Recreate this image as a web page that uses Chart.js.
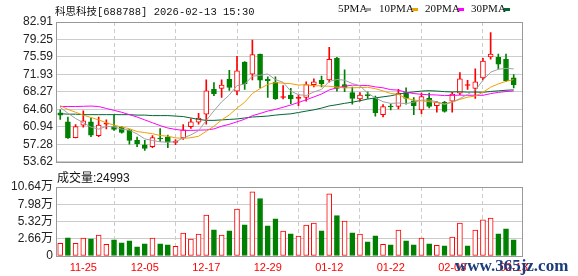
<!DOCTYPE html>
<html>
<head>
<meta charset="utf-8">
<script src="https://cdn.jsdelivr.net/npm/chart.js@4.4.1/dist/chart.umd.min.js"></script>
<style>
  body { margin: 0; width: 578px; height: 276px; background: #fff; position: relative; overflow: hidden;
         font-family: "Liberation Sans", "Noto Sans CJK SC", sans-serif; }
  #priceBox { position: absolute; left: 0; top: 0; width: 578px; height: 172px; }
  #volBox { position: absolute; left: 0; top: 176px; width: 578px; height: 100px; }
  .txt { position: absolute; white-space: nowrap; color: #111; line-height: 1; }
  .leg { position: absolute; top: 3px; font: 11px "Liberation Serif", serif; color: #111; line-height: 1; }
  .dash { position: absolute; top: 8px; width: 6px; height: 3px; }
</style>
</head>
<body>
<div id="priceBox"><canvas id="price"></canvas></div>
<div id="volBox"><canvas id="vol"></canvas></div>

<div class="txt" style="left:55px;top:3px;font:10.5px 'Liberation Mono','Noto Sans CJK SC',monospace;color:#111;">科思科技[688788] 2026-02-13 15:30</div>
<div class="leg" style="left:338px;">5PMA</div><div class="dash" style="left:365px;background:#a0a0a0;"></div>
<div class="leg" style="left:379px;">10PMA</div><div class="dash" style="left:412px;background:#f0a000;"></div>
<div class="leg" style="left:425px;">20PMA</div><div class="dash" style="left:458px;background:#ff00ff;"></div>
<div class="leg" style="left:471px;">30PMA</div><div class="dash" style="left:504px;background:#006633;"></div>
<div class="txt" style="left:57px;top:172px;font-size:12px;">成交量:24993</div>
<div class="txt" style="left:455px;top:256px;font:bold 17px 'Liberation Serif',serif;color:#1b3c7c;">www.365jz.com</div>

<script>
// candles (yuan)
const opens  = [63.9, 62.0, 58.7, 61.3, 62.0, 59.1, 61.5, 61.0, 60.9, 60.2,
                58.1, 57.2, 56.8, 58.6, 58.8, 57.7, 58.6, 61.0, 61.9, 63.6,
                68.8, 69.0, 70.9, 68.4, 74.5, 72.0, 76.2, 70.9, 70.3, 67.1,
                67.6, 66.9, 67.1, 69.8, 70.7, 70.8, 75.3, 69.8, 68.1, 66.8,
                67.7, 66.9, 63.5, 65.3, 65.2, 68.1, 66.4, 64.5, 66.9, 65.4,
                66.1, 66.3, 68.0, 69.6, 69.0, 71.2, 75.6, 75.5, 75.1, 71.2];
const highs  = [64.5, 63.0, 61.4, 64.3, 62.8, 63.0, 62.4, 63.4, 61.0, 60.4,
                58.8, 58.1, 59.1, 60.6, 59.2, 58.3, 61.4, 62.6, 63.8, 70.8,
                70.2, 70.8, 72.8, 75.7, 74.6, 79.1, 76.2, 71.4, 71.4, 69.6,
                69.0, 67.6, 70.4, 71.0, 71.6, 77.6, 75.5, 72.9, 69.3, 68.1,
                68.3, 67.4, 65.6, 65.7, 68.8, 69.1, 67.1, 68.0, 68.0, 66.3,
                66.3, 68.2, 72.3, 70.7, 73.1, 75.3, 80.7, 76.2, 76.2, 71.9];
const lows   = [62.5, 58.5, 58.6, 60.9, 58.9, 58.9, 60.5, 60.2, 59.6, 57.3,
                56.8, 56.0, 56.6, 57.9, 56.6, 57.2, 58.3, 60.6, 61.5, 61.5,
                67.5, 67.1, 68.6, 67.7, 68.8, 70.8, 69.1, 67.1, 66.7, 66.8,
                65.8, 65.4, 66.3, 69.3, 69.3, 70.3, 68.4, 68.3, 65.7, 66.3,
                66.9, 63.2, 63.0, 64.5, 64.7, 65.7, 63.5, 63.7, 64.9, 64.0,
                64.0, 64.0, 67.7, 68.8, 66.9, 70.8, 75.1, 73.1, 70.4, 69.1];
const closes = [63.4, 58.6, 61.0, 62.2, 59.2, 61.3, 61.6, 60.4, 59.8, 58.1,
                57.4, 56.4, 58.7, 58.4, 57.75, 57.85, 60.3, 62.0, 62.8, 68.5,
                67.9, 69.7, 69.2, 72.7, 70.0, 76.1, 70.7, 70.6, 66.8, 67.2,
                66.8, 67.0, 69.8, 70.4, 70.0, 75.1, 69.0, 69.1, 66.9, 67.6,
                67.5, 63.9, 65.2, 65.1, 68.0, 66.9, 65.4, 67.3, 65.2, 66.1,
                64.2, 67.8, 71.0, 69.65, 70.4, 74.7, 76.2, 74.1, 70.6, 69.8];
const closeBefore = 62.9;

// moving averages as drawn
const ma5  = [65.0, 63.8, 62.7, 61.8, 60.88, 60.46, 61.06, 60.94, 60.46, 60.24,
              59.46, 58.42, 58.08, 57.8, 57.73, 57.82, 58.6, 59.26, 60.14, 62.29,
              64.3, 66.18, 67.62, 69.6, 69.9, 71.54, 71.74, 72.02, 70.84, 70.28,
              68.42, 67.68, 67.52, 68.24, 68.8, 70.46, 70.86, 70.72, 70.02, 69.54,
              68.02, 67.0, 66.22, 65.86, 65.94, 65.82, 66.12, 66.54, 66.56, 66.18,
              65.64, 66.12, 66.86, 67.75, 68.61, 70.71, 72.39, 73.01, 73.2, 73.08];
const ma10 = [65.4, 64.6, 64.0, 63.4, 62.9, 62.4, 61.8, 61.3, 60.9, 60.56,
              59.96, 59.74, 59.51, 59.13, 58.99, 58.64, 58.51, 58.67, 58.97, 60.01,
              61.06, 62.39, 63.44, 64.87, 66.1, 67.92, 68.96, 69.82, 70.22, 70.09,
              69.98, 69.71, 69.77, 69.54, 69.54, 69.44, 69.27, 69.12, 69.13, 69.17,
              69.24, 68.93, 68.47, 67.94, 67.74, 66.92, 66.56, 66.38, 66.21, 66.06,
              65.73, 66.12, 66.7, 67.16, 67.4, 68.18, 69.26, 69.94, 70.48, 70.85];
const ma20 = [65.2, 65.2, 65.2, 65.25, 65.3, 65.2, 64.8, 64.4, 64.0, 63.5,
              63.0, 62.4, 61.8, 61.2, 60.7, 60.4, 60.2, 60.2, 60.25, 60.29,
              60.51, 61.07, 61.48, 62.0, 62.54, 63.28, 63.74, 64.25, 64.6, 65.05,
              65.52, 66.05, 66.61, 67.21, 67.82, 68.68, 69.12, 69.47, 69.68, 69.63,
              69.61, 69.32, 69.12, 68.74, 68.64, 68.18, 67.92, 67.75, 67.67, 67.62,
              67.49, 67.53, 67.59, 67.55, 67.57, 67.55, 67.91, 68.16, 68.34, 68.45];
const ma30 = [63.7, 63.6, 63.6, 63.5, 63.5, 63.5, 63.5, 63.5, 63.5, 63.5,
              63.4, 63.4, 63.3, 63.3, 63.3, 63.2, 63.1, 62.8, 62.5, 62.3,
              62.3, 62.4, 62.5, 62.6, 62.8, 63.0, 63.1, 63.2, 63.4, 63.55,
              63.67, 63.95, 64.24, 64.51, 64.87, 65.33, 65.58, 65.87, 66.11, 66.42,
              66.76, 67.01, 67.23, 67.45, 67.79, 68.09, 68.26, 68.44, 68.52, 68.44,
              68.32, 68.25, 68.31, 68.21, 68.23, 68.18, 68.36, 68.48, 68.61, 68.69];

// volume, in 万 (10k) hands
const volumes = [1.97, 2.80, 1.97, 2.75, 2.64, 3.21, 1.81, 2.49, 2.02, 2.33,
                 1.40, 1.87, 2.75, 1.87, 1.71, 1.50, 3.52, 2.59, 3.37, 6.32,
                 4.04, 3.21, 3.89, 7.25, 4.82, 9.90, 8.86, 4.66, 5.75, 3.83,
                 3.42, 3.06, 4.77, 5.08, 3.89, 9.59, 6.22, 5.39, 3.58, 3.37,
                 2.18, 3.11, 1.81, 1.71, 3.99, 2.33, 1.71, 2.75, 1.87, 1.66,
                 1.55, 2.90, 5.08, 1.55, 3.99, 5.56, 5.85, 3.42, 4.20, 2.4993];

const priceTicks = [53.62, 57.28, 60.94, 64.60, 68.27, 71.93, 75.59, 79.25, 82.91];
const volTicks = [0, 2.66, 5.32, 7.98, 10.64];
const dateTickIndex = [3, 11, 19, 27, 35, 43, 51, 59];
const dateTickLabels = ['11-25', '12-05', '12-17', '12-29', '01-12', '01-22', '02-03', '02-13'];

const RED = '#ff0000';
const GREEN = '#008000';

Chart.defaults.font.family = '"Liberation Sans", "Noto Sans CJK SC", sans-serif';
Chart.defaults.animation = false;

const candleUp = opens.map((o, i) => closes[i] >= o);
const volUp = closes.map((c, i) => c >= (i === 0 ? closeBefore : closes[i - 1]));

// gray frame round each plot area
const framePlugin = {
    id: 'frame',
    afterDraw(chart) {
        const { ctx, chartArea: a } = chart;
        ctx.save();
        ctx.strokeStyle = '#999';
        ctx.lineWidth = 1;
        ctx.strokeRect(Math.round(a.left) + 0.5, Math.round(a.top) + 0.5,
            Math.round(a.right - a.left), Math.round(a.bottom - a.top));
        ctx.restore();
    }
};

function xScale(showLabels) {
    return {
        type: 'linear',
        min: -0.55,
        max: 60.08,
        offset: false,
        afterBuildTicks: s => { s.ticks = dateTickIndex.map(v => ({ value: v })); },
        afterFit: s => { s.height = showLabels ? 20 : 7; },
        grid: { color: '#cccccc', lineWidth: 1, drawTicks: false },
        border: { display: false, dash: [4, 3] },
        ticks: {
            display: showLabels,
            autoSkip: false,
            maxRotation: 0,
            padding: 5,
            color: RED,
            font: { size: 11 },
            callback: v => dateTickLabels[dateTickIndex.indexOf(v)]
        }
    };
}

function yTicks(fmt) {
    return { padding: 3, color: '#222', font: { size: 12 }, autoSkip: false, callback: fmt };
}

function maLine(values, color) {
    return {
        type: 'line',
        data: values.map((v, i) => ({ x: i, y: v })),
        borderColor: color,
        borderWidth: 1,
        pointRadius: 0,
        tension: 0,
        order: 0
    };
}

// Price chart
new Chart(document.getElementById('price'), {
    type: 'bar',
    data: {
        datasets: [
            maLine(ma5, '#a0a0a0'),
            maLine(ma10, '#f0a000'),
            maLine(ma20, '#ff00ff'),
            maLine(ma30, '#006633'),
            {
                // candle bodies
                data: opens.map((o, i) => ({ x: i, y: [o, closes[i]] })),
                backgroundColor: opens.map((o, i) => candleUp[i]
                    ? (Math.abs(closes[i] - o) < 0.2 ? RED : '#ffffff') : GREEN),
                borderColor: candleUp.map(u => u ? RED : GREEN),
                borderWidth: 1,
                borderSkipped: false,
                barThickness: 5,
                minBarLength: 1,
                grouped: false,
                order: 1
            },
            {
                // wicks
                data: lows.map((l, i) => ({ x: i, y: [l, highs[i]] })),
                backgroundColor: candleUp.map(u => u ? RED : GREEN),
                borderWidth: 0,
                barThickness: 1,
                grouped: false,
                order: 2
            }
        ]
    },
    options: {
        responsive: true,
        maintainAspectRatio: false,
        layout: { padding: { top: 22, right: 56, bottom: 0, left: 0 } },
        plugins: { legend: { display: false }, tooltip: { enabled: false } },
        scales: {
            x: xScale(false),
            y: {
                min: 53.62,
                max: 82.91,
                afterBuildTicks: s => { s.ticks = priceTicks.map(v => ({ value: v })); },
                afterFit: s => { s.width = 56; },
                grid: { color: '#cccccc', drawTicks: false },
                border: { display: false },
                ticks: yTicks(v => v.toFixed(2))
            }
        }
    },
    plugins: [framePlugin]
});

// Volume chart
new Chart(document.getElementById('vol'), {
    type: 'bar',
    data: {
        datasets: [{
            data: volumes.map((v, i) => ({ x: i, y: v })),
            backgroundColor: volUp.map(u => u ? '#ffffff' : GREEN),
            borderColor: volUp.map(u => u ? RED : GREEN),
            borderWidth: 1,
            borderSkipped: false,
            barThickness: 5,
            grouped: false
        }]
    },
    options: {
        responsive: true,
        maintainAspectRatio: false,
        layout: { padding: { top: 11, right: 56, bottom: 0, left: 0 } },
        plugins: { legend: { display: false }, tooltip: { enabled: false } },
        scales: {
            x: xScale(true),
            y: {
                min: 0,
                max: 10.64,
                afterBuildTicks: s => { s.ticks = volTicks.map(v => ({ value: v })); },
                afterFit: s => { s.width = 56; },
                grid: { color: '#cccccc', drawTicks: false },
                border: { display: false },
                ticks: yTicks(v => v === 0 ? '0' : v.toFixed(2) + '万')
            }
        }
    },
    plugins: [framePlugin]
});
</script>
</body>
</html>
